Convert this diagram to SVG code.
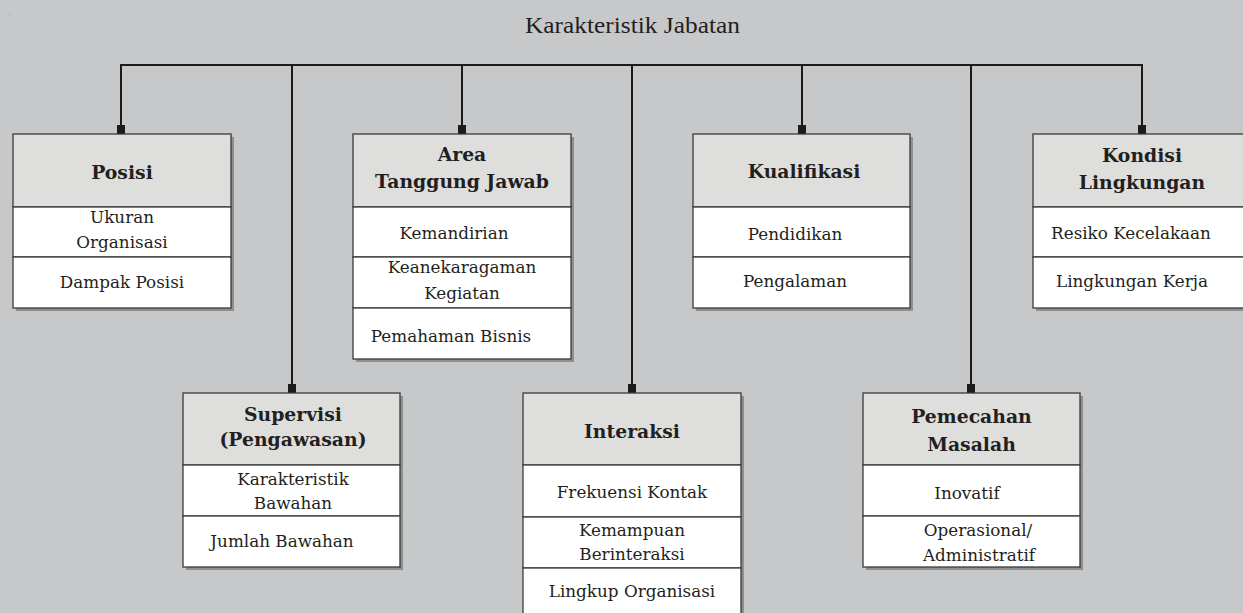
<svg xmlns="http://www.w3.org/2000/svg" width="1243" height="613" viewBox="0 0 1243 613">
<style>
.bg{fill:#c7c8ca}
.sh{fill:#8e8f91}
.hd{fill:#dededd;stroke:#3a3a3a;stroke-width:1.3}
.rw{fill:#ffffff;stroke:#3a3a3a;stroke-width:1.3}
.ln{stroke:#1c1a1a;stroke-width:2;fill:none}
.sq{fill:#1c1a1a}
.t{font-family:"DejaVu Serif",serif;font-size:16.8px;fill:#231f20;text-anchor:middle}
.h{font-family:"DejaVu Serif",serif;font-size:18.8px;font-weight:bold;fill:#231f20;text-anchor:middle}
.ti{font-family:"Liberation Serif",serif;font-size:23px;fill:#231f20;text-anchor:middle}
</style>
<rect class="bg" x="0" y="0" width="1243" height="613"/>
<rect x="9.5" y="13.5" width="1" height="1" fill="#8a8a8a"/>
<text class="ti" x="632.5" y="33" textLength="215" lengthAdjust="spacingAndGlyphs">Karakteristik Jabatan</text>

<g id="connectors">
<path class="ln" d="M121,134 V65 H1142 V134"/>
<path class="ln" d="M292,65 V393 M462,65 V134 M632,65 V393 M802,65 V134 M971,65 V393"/>
<rect class="sq" x="117" y="125" width="8" height="9"/>
<rect class="sq" x="458" y="125" width="8" height="9"/>
<rect class="sq" x="798" y="125" width="8" height="9"/>
<rect class="sq" x="1138" y="125" width="8" height="9"/>
<rect class="sq" x="288" y="384" width="8" height="9"/>
<rect class="sq" x="628" y="384" width="8" height="9"/>
<rect class="sq" x="967" y="384" width="8" height="9"/>
</g>

<g id="posisi">
<rect class="sh" x="16" y="137" width="218" height="174"/>
<rect class="hd" x="13" y="134" width="218" height="73"/>
<rect class="rw" x="13" y="207" width="218" height="50"/>
<rect class="rw" x="13" y="257" width="218" height="51"/>
<text class="h" x="122" y="179">Posisi</text>
<text class="t" x="122" y="223">Ukuran</text>
<text class="t" x="122" y="248">Organisasi</text>
<text class="t" x="122" y="288">Dampak Posisi</text>
</g>

<g id="area">
<rect class="sh" x="356" y="137" width="218" height="225"/>
<rect class="hd" x="353" y="134" width="218" height="73"/>
<rect class="rw" x="353" y="207" width="218" height="50"/>
<rect class="rw" x="353" y="257" width="218" height="51"/>
<rect class="rw" x="353" y="308" width="218" height="51"/>
<text class="h" x="462" y="161">Area</text>
<text class="h" x="462" y="188">Tanggung Jawab</text>
<text class="t" x="454" y="239">Kemandirian</text>
<text class="t" x="462" y="273">Keanekaragaman</text>
<text class="t" x="462" y="299">Kegiatan</text>
<text class="t" x="451" y="342">Pemahaman Bisnis</text>
</g>

<g id="kualifikasi">
<rect class="sh" x="696" y="137" width="217" height="174"/>
<rect class="hd" x="693" y="134" width="217" height="73"/>
<rect class="rw" x="693" y="207" width="217" height="50"/>
<rect class="rw" x="693" y="257" width="217" height="51"/>
<text class="h" x="804" y="178">Kualifikasi</text>
<text class="t" x="795" y="240">Pendidikan</text>
<text class="t" x="795" y="287">Pengalaman</text>
</g>

<g id="kondisi">
<rect class="sh" x="1036" y="137" width="218" height="174"/>
<rect class="hd" x="1033" y="134" width="218" height="73"/>
<rect class="rw" x="1033" y="207" width="218" height="50"/>
<rect class="rw" x="1033" y="257" width="218" height="51"/>
<text class="h" x="1142" y="162">Kondisi</text>
<text class="h" x="1142" y="189">Lingkungan</text>
<text class="t" x="1131" y="239">Resiko Kecelakaan</text>
<text class="t" x="1132" y="287">Lingkungan Kerja</text>
</g>

<g id="supervisi">
<rect class="sh" x="186" y="396" width="217" height="174"/>
<rect class="hd" x="183" y="393" width="217" height="72"/>
<rect class="rw" x="183" y="465" width="217" height="51"/>
<rect class="rw" x="183" y="516" width="217" height="51"/>
<text class="h" x="293" y="421">Supervisi</text>
<text class="h" x="293" y="446">(Pengawasan)</text>
<text class="t" x="293" y="485">Karakteristik</text>
<text class="t" x="293" y="509">Bawahan</text>
<text class="t" x="282" y="547">Jumlah Bawahan</text>
</g>

<g id="interaksi">
<rect class="sh" x="526" y="396" width="218" height="226"/>
<rect class="hd" x="523" y="393" width="218" height="72"/>
<rect class="rw" x="523" y="465" width="218" height="52"/>
<rect class="rw" x="523" y="517" width="218" height="51"/>
<rect class="rw" x="523" y="568" width="218" height="51"/>
<text class="h" x="632" y="438">Interaksi</text>
<text class="t" x="632" y="498">Frekuensi Kontak</text>
<text class="t" x="632" y="536">Kemampuan</text>
<text class="t" x="632" y="560">Berinteraksi</text>
<text class="t" x="632" y="597">Lingkup Organisasi</text>
</g>

<g id="pemecahan">
<rect class="sh" x="866" y="396" width="217" height="174"/>
<rect class="hd" x="863" y="393" width="217" height="72"/>
<rect class="rw" x="863" y="465" width="217" height="51"/>
<rect class="rw" x="863" y="516" width="217" height="51"/>
<text class="h" x="971.5" y="423">Pemecahan</text>
<text class="h" x="971.5" y="451">Masalah</text>
<text class="t" x="967" y="499">Inovatif</text>
<text class="t" x="978" y="536">Operasional/</text>
<text class="t" x="979" y="561">Administratif</text>
</g>
</svg>
